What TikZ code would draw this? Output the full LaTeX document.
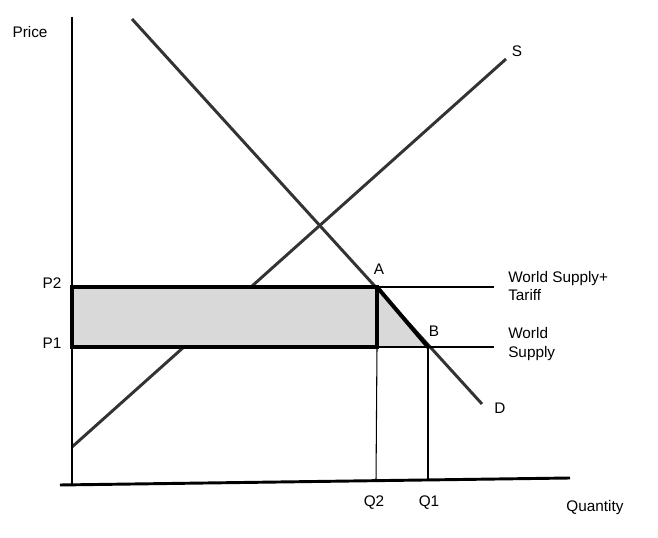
\documentclass[tikz,border=0pt]{standalone}
\usepackage{fontspec}
\setmainfont{Liberation Sans}
\usepackage{xcolor}
\definecolor{curve-gray}{HTML}{333333}
\definecolor{area-gray}{HTML}{D9D9D9}
\usepackage{tikz}
\tikzset{
    tag/.style={font=\fontsize{11.5}{13.7}\selectfont, inner sep=0pt, text=black},
    curve/.style={curve-gray, line width=2.2pt},
    axis/.style={black, line width=2.2pt},
    thin rule/.style={black, line width=0.8pt},
    thick rule/.style={black, line width=3pt}
}
\begin{document}
\begin{tikzpicture}[x=0.75pt, y=-0.75pt]

    \useasboundingbox (0, 0) rectangle (658, 538);

    % Points
    \coordinate (ytop) at (72, 17);
    \coordinate (xleft) at (60, 485);
    \coordinate (xright) at (570, 478);
    \coordinate (dtop) at (132, 19);
    \coordinate (dbot) at (482, 404);
    \coordinate (sbot) at (72, 447);
    \coordinate (stop) at (506, 59);
    \coordinate (A) at (377, 287);
    \coordinate (B) at (428, 347);
    \coordinate (p2) at (72, 287);
    \coordinate (p1) at (72, 347);
    \coordinate (a1) at (377, 347);
    \coordinate (wst) at (494, 287);
    \coordinate (ws) at (494, 347);
    \coordinate (q2) at (376, 482);
    \coordinate (q1) at (428, 481);

    % Supply and demand
    \draw[curve] (sbot) -- (stop);
    \draw[curve] (dtop) -- (dbot);

    % Shaded areas
    \fill[area-gray] (p2) rectangle (a1);
    \fill[area-gray] (A) -- (B) -- (a1) -- cycle;

    % World supply lines
    \draw[thin rule] (A) -- (wst);
    \draw[thin rule] (B) -- (ws);
    \draw[thin rule] (a1) -- (B);

    % Quantities
    \draw[thin rule] (a1) -- (q2);
    \draw[thin rule] (B) -- (q1);

    % Tariff box
    \draw[thick rule] (p2) rectangle (a1);
    \draw[thick rule, line cap=round] (A) -- (B);

    % Axes
    \draw[axis] (ytop) -- (p1 |- xleft);
    \draw[axis] (xleft) -- (xright);

    % Labels
    \node[tag] (price) at (30, 32) {Price};
    \node[tag] (p2text) at (52, 283) {P2};
    \node[tag] (p1text) at (52, 343) {P1};
    \node[tag] (atext) at (379, 269) {A};
    \node[tag] (btext) at (434, 331) {B};
    \node[tag] (stext) at (517, 51) {S};
    \node[tag] (dtext) at (500, 408) {D};
    \node[tag] (q2text) at (374, 503) {Q2};
    \node[tag] (q1text) at (429, 503) {Q1};
    \node[tag] (quantity) at (595, 508) {Quantity};
    \node[tag, anchor=west, align=left] (wsttext) at (508, 286) {World Supply+\\Tariff};
    \node[tag, anchor=west, align=left] (wstext) at (508, 344) {World\\Supply};

\end{tikzpicture}
\end{document}
